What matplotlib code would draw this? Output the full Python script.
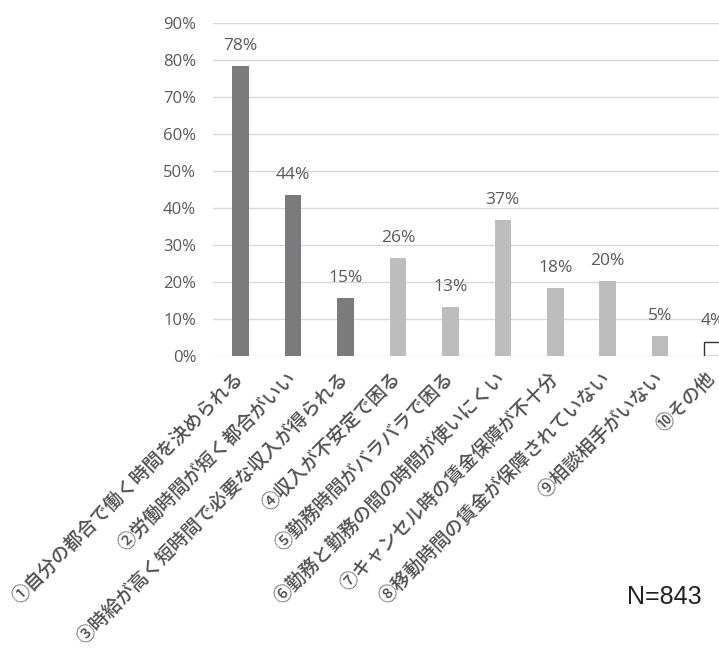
import matplotlib.pyplot as plt

plt.rcParams['font.family'] = ['Noto Sans CJK JP', 'DejaVu Sans']

# 回答項目と割合
categories = [
    "①自分の都合で働く時間を決められる",
    "②労働時間が短く都合がいい",
    "③時給が高く短時間で必要な収入が得られる",
    "④収入が不安定で困る",
    "⑤勤務時間がバラバラで困る",
    "⑥勤務と勤務の間の時間が使いにくい",
    "⑦キャンセル時の賃金保障が不十分",
    "⑧移動時間の賃金が保障されていない",
    "⑨相談相手がいない",
    "⑩その他",
]
values = [78.4, 43.5, 15.6, 26.5, 13.3, 36.7, 18.4, 20.3, 5.5, 3.9]
value_labels = ["78%", "44%", "15%", "26%", "13%", "37%", "18%", "20%", "5%", "4%"]
bar_colors = ["#7b7b7d"] * 3 + ["#bdbdbd"] * 6 + ["white"]
yticks = [0, 10, 20, 30, 40, 50, 60, 70, 80, 90]

fig = plt.figure(figsize=(7.19, 6.53), dpi=100)
ax = fig.add_axes([0.296, 0.4548, 0.7038, 0.5104])

x = list(range(len(values)))
edge = ["none"] * 9 + ["#333333"]
ax.bar(x, values, width=0.315, color=bar_colors, edgecolor=edge, linewidth=1, zorder=3)

for i, (v, lab) in enumerate(zip(values, value_labels)):
    ax.annotate(lab, (i, v), xytext=(0, 14.5), textcoords="offset points",
                ha="center", va="center", fontsize=12.5, color="#595959",
                family="Open Sans")

ax.set_xlim(-0.53, 9.12)
ax.set_ylim(0, 90)
ax.set_yticks(yticks)
ax.set_yticklabels([f"{t}%" for t in yticks], fontsize=12, color="#595959",
                   family="Open Sans")
ax.tick_params(axis="y", length=0, pad=12)
ax.grid(axis="y", color="#d9d9d9", linewidth=1, zorder=0)
for s in ax.spines.values():
    s.set_visible(False)

ax.set_xticks(x)
ax.set_xticklabels(categories, rotation=45, ha="right", va="center",
                   rotation_mode="anchor", fontsize=13.5, color="#505050",
                   fontweight="medium")
ax.tick_params(axis="x", length=0, pad=14)

fig.text(0.976, 0.086, "N=843", ha="right", va="center", fontsize=18,
         color="#222222", family="Liberation Sans")

fig.savefig("out.png", dpi=100)
